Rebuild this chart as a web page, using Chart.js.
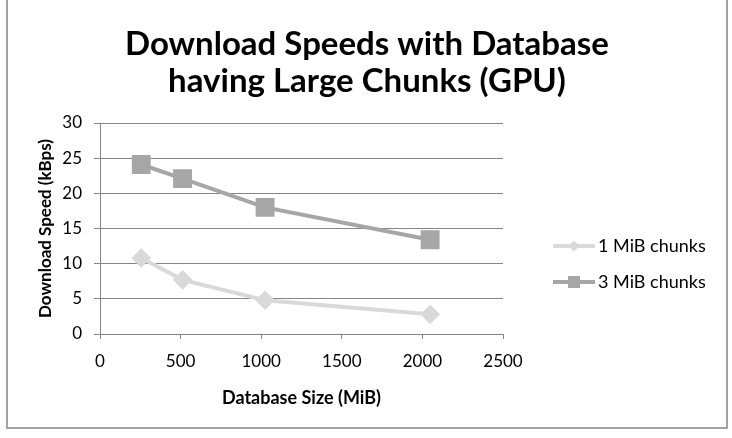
<!DOCTYPE html>
<html>
<head>
<meta charset="utf-8">
<script src="https://cdn.jsdelivr.net/npm/chart.js@4"></script>
<style>
  html, body { margin: 0; padding: 0; background: #fff; }
  #wrap { position: relative; width: 732px; height: 438px; overflow: hidden; }
  #frame { position: absolute; left: 6px; top: -4px; width: 718px; height: 429px; border: 2px solid #a3a3a3; pointer-events: none; }
  canvas { position: absolute; left: 0; top: 0; }
</style>
</head>
<body>
<div id="wrap">
  <canvas id="chart" width="732" height="438"></canvas>
  <div id="frame"></div>
</div>
<script>
const sizes = [256, 512, 1024, 2048];           // Database size (MiB)
const chunks1 = [10.8, 7.7, 4.8, 2.8];          // 1 MiB chunks (kBps)
const chunks3 = [24.1, 22.1, 18.0, 13.4];       // 3 MiB chunks (kBps)
const seriesNames = ['1 MiB chunks', '3 MiB chunks'];
const titleLines = ['Download Speeds with Database', 'having Large Chunks (GPU)'];

const FONT = "Lato, 'Open Sans', sans-serif";

// title centred on the whole canvas, not on the plot
const canvasTitle = {
    id: 'canvasTitle',
    afterDraw(chart) {
        const ctx = chart.ctx;
        ctx.save();
        ctx.fillStyle = '#000';
        ctx.font = 'bold 33px ' + FONT;
        ctx.textAlign = 'center';
        ctx.textBaseline = 'middle';
        titleLines.forEach((t, i) => ctx.fillText(t, 367, 44 + i * 37));
        ctx.restore();
    }
};

// legend drawn as line + marker, like the spreadsheet legend
const sideLegend = {
    id: 'sideLegend',
    afterDraw(chart) {
        const ctx = chart.ctx;
        const rows = [246, 282];
        chart.data.datasets.forEach((ds, i) => {
            const y = rows[i];
            ctx.save();
            ctx.strokeStyle = ds.borderColor;
            ctx.lineWidth = ds.borderWidth;
            ctx.beginPath();
            ctx.moveTo(553, y);
            ctx.lineTo(595, y);
            ctx.stroke();
            ctx.fillStyle = ds.pointBackgroundColor;
            if (ds.pointStyle === 'rect') {
                ctx.fillRect(574 - 6, y - 6, 12, 12);
            } else {
                ctx.beginPath();
                ctx.moveTo(574 - 5.5, y);
                ctx.lineTo(574, y - 5.5);
                ctx.lineTo(574 + 5.5, y);
                ctx.lineTo(574, y + 5.5);
                ctx.closePath();
                ctx.fill();
            }
            ctx.fillStyle = '#000';
            ctx.font = '18px ' + FONT;
            ctx.textBaseline = 'middle';
            ctx.textAlign = 'left';
            ctx.fillText(ds.label, 598, y);
            ctx.restore();
        });
    }
};

const ctx = document.getElementById('chart').getContext('2d');
new Chart(ctx, {
    type: 'line',
    data: {
        datasets: [
            {
                label: seriesNames[0],
                data: sizes.map((x, i) => ({ x: x, y: chunks1[i] })),
                borderColor: '#d9d9d9',
                pointBackgroundColor: '#d9d9d9',
                pointBorderColor: '#d9d9d9',
                borderWidth: 4,
                pointStyle: 'rectRot',
                pointRadius: 7,
                tension: 0
            },
            {
                label: seriesNames[1],
                data: sizes.map((x, i) => ({ x: x, y: chunks3[i] })),
                borderColor: '#a6a6a6',
                pointBackgroundColor: '#a6a6a6',
                pointBorderColor: '#a6a6a6',
                borderWidth: 4,
                pointStyle: 'rect',
                pointRadius: 10.5,
                tension: 0
            }
        ]
    },
    options: {
        responsive: false,
        animation: false,
        layout: { padding: { left: 8, right: 229, top: 123, bottom: 20 } },
        plugins: {
            legend: { display: false },
            tooltip: { enabled: false },
            title: { display: false }
        },
        scales: {
            x: {
                type: 'linear',
                min: 0,
                max: 2500,
                afterFit: s => { s.height = 84; },
                ticks: {
                    stepSize: 500, color: '#000', padding: 12, maxRotation: 0,
                    font: { family: FONT, size: 17 },
                    callback: v => String(v)
                },
                grid: { drawOnChartArea: false, drawTicks: true, tickLength: 5, color: '#868686' },
                border: { color: '#868686' },
                title: {
                    display: true,
                    text: 'Database Size (MiB)',
                    color: '#000',
                    font: { family: FONT, size: 18, weight: 'bold', lineHeight: 1.2 },
                    padding: { top: 0, bottom: 9 }
                }
            },
            y: {
                min: 0,
                max: 30,
                afterFit: s => { s.width = 92; },
                ticks: { stepSize: 5, color: '#000', padding: 12, font: { family: FONT, size: 17 } },
                grid: { color: '#868686', tickLength: 6 },
                border: { color: '#868686' },
                title: {
                    display: true,
                    text: 'Download Speed (kBps)',
                    color: '#000',
                    font: { family: FONT, size: 17, weight: 'bold', lineHeight: 1.2 },
                    padding: { top: 27, bottom: 0 }
                }
            }
        }
    },
    plugins: [canvasTitle, sideLegend]
});
</script>
</body>
</html>
